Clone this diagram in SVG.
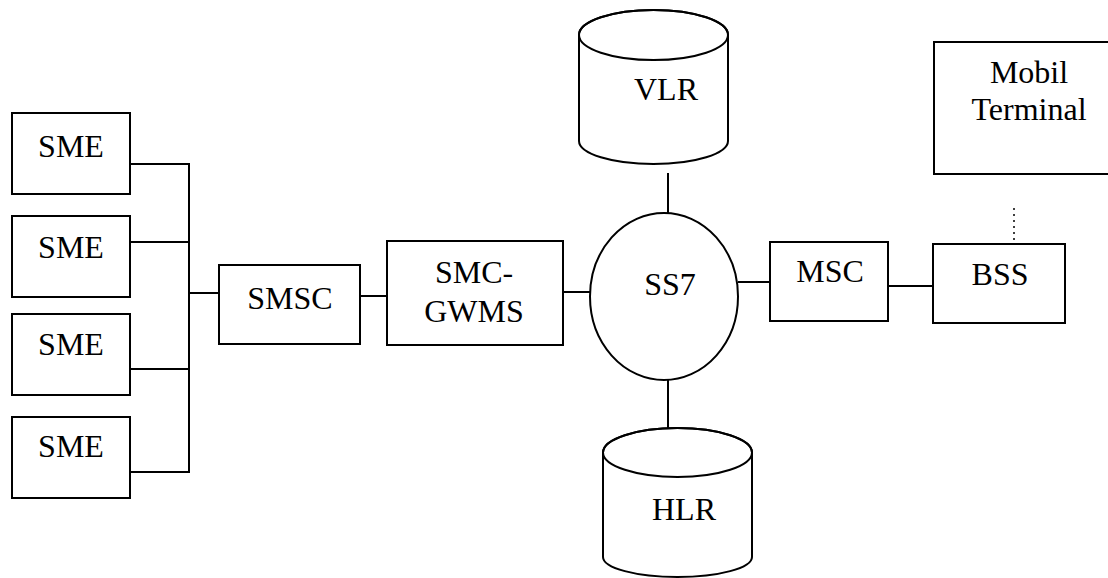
<svg xmlns="http://www.w3.org/2000/svg" width="1108" height="578" viewBox="0 0 1108 578">
<style>
.s{fill:#fff;stroke:#000;stroke-width:2}
.l{fill:none;stroke:#000;stroke-width:2}
.d{fill:none;stroke:#000;stroke-width:1.5;stroke-dasharray:2 4}
.t{font-family:'Liberation Serif','Times New Roman',serif;font-size:32px;fill:#000;text-anchor:middle}
</style>
<rect width="1108" height="578" fill="#fff"/>
<g id="connectors">
<polyline class="l" points="130,164 189,164 189,472 130,472"/>
<line class="l" x1="130" y1="242" x2="189" y2="242"/>
<line class="l" x1="130" y1="369" x2="189" y2="369"/>
<line class="l" x1="189" y1="293" x2="219" y2="293"/>
<line class="l" x1="360" y1="296" x2="387" y2="296"/>
<line class="l" x1="563" y1="292" x2="590" y2="292"/>
<line class="l" x1="668" y1="173" x2="668" y2="213"/>
<line class="l" x1="668" y1="380" x2="668" y2="428"/>
<line class="l" x1="738" y1="282" x2="770" y2="282"/>
<line class="l" x1="888" y1="286" x2="933" y2="286"/>
<line class="d" x1="1014" y1="208" x2="1014" y2="243"/>
</g>
<g id="sme1"><rect class="s" x="12" y="113" width="118" height="81"/><text class="t" x="71" y="157">SME</text></g>
<g id="sme2"><rect class="s" x="12" y="216" width="118" height="81"/><text class="t" x="71" y="258">SME</text></g>
<g id="sme3"><rect class="s" x="12" y="314" width="118" height="81"/><text class="t" x="71" y="355">SME</text></g>
<g id="sme4"><rect class="s" x="12" y="417" width="118" height="81"/><text class="t" x="71" y="457">SME</text></g>
<g id="smsc"><rect class="s" x="219" y="265" width="141" height="79"/><text class="t" x="290" y="309">SMSC</text></g>
<g id="smcgwms"><rect class="s" x="387" y="241" width="176" height="104"/><text class="t" x="474" y="283">SMC-</text><text class="t" x="474" y="322">GWMS</text></g>
<g id="ss7"><ellipse class="s" cx="664" cy="296.5" rx="74" ry="83.5"/><text class="t" x="670" y="295">SS7</text></g>
<g id="vlr"><path class="s" d="M579,35 L579,141 A74.5,23 0 0 0 728,141 L728,35 A74.5,25 0 0 0 579,35 Z"/><ellipse class="l" cx="653.5" cy="35" rx="74.5" ry="25"/><text class="t" x="666" y="100">VLR</text></g>
<g id="hlr"><path class="s" d="M603,452.5 L603,557 A74.5,20 0 0 0 752,557 L752,452.5 A74.5,24.5 0 0 0 603,452.5 Z"/><ellipse class="l" cx="677.5" cy="452.5" rx="74.5" ry="24.5"/><text class="t" x="684" y="520">HLR</text></g>
<g id="msc"><rect class="s" x="770" y="242" width="118" height="79"/><text class="t" x="830" y="282">MSC</text></g>
<g id="bss"><rect class="s" x="933" y="244" width="132" height="79"/><text class="t" x="1000" y="285">BSS</text></g>
<g id="mobil"><rect class="s" x="934" y="42" width="190" height="132"/><text class="t" x="1029" y="83">Mobil</text><text class="t" x="1029" y="120">Terminal</text></g>
</svg>
